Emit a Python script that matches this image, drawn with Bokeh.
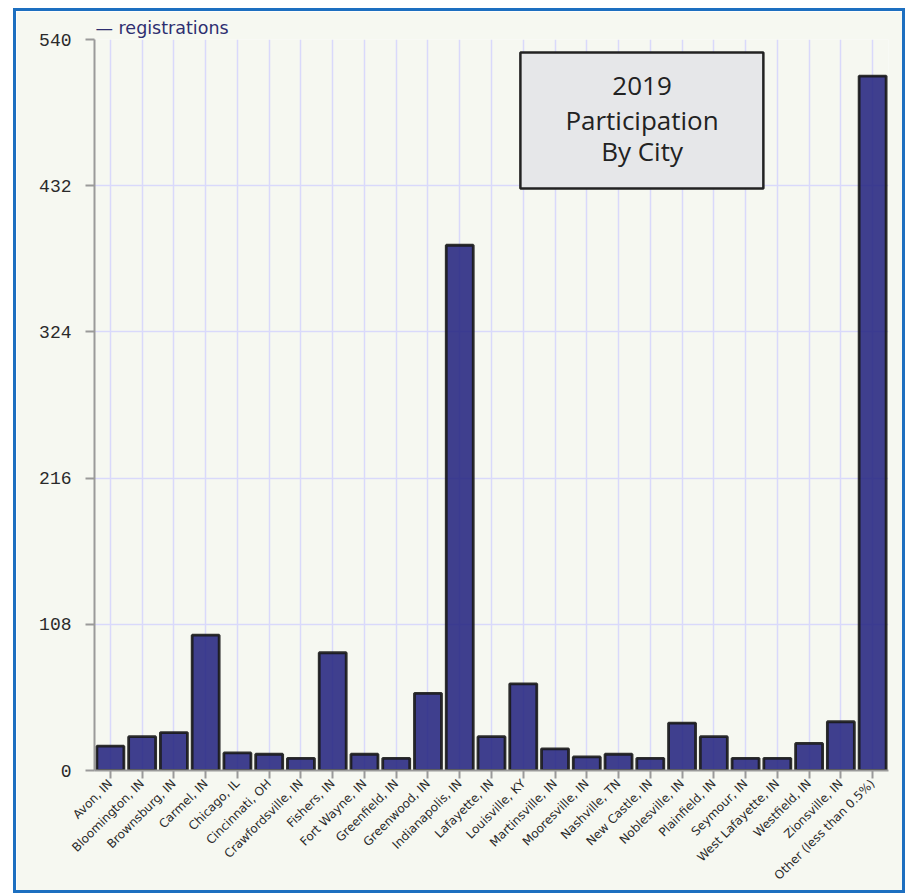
import math
from bokeh.plotting import figure
from bokeh.models import Range1d, FactorRange, BoxAnnotation, Label, FixedTicker
from bokeh.embed import file_html
from bokeh.resources import INLINE

cities = ["Avon, IN", "Bloomington, IN", "Brownsburg, IN", "Carmel, IN", "Chicago, IL",
          "Cincinnati, OH", "Crawfordsville, IN", "Fishers, IN", "Fort Wayne, IN", "Greenfield, IN",
          "Greenwood, IN", "Indianapolis, IN", "Lafayette, IN", "Louisville, KY", "Martinsville, IN",
          "Mooresville, IN", "Nashville, TN", "New Castle, IN", "Noblesville, IN", "Plainfield, IN",
          "Seymour, IN", "West Lafayette, IN", "Westfield, IN", "Zionsville, IN", "Other (less than 0.5%)"]
registrations = [18, 25, 28, 100, 13, 12, 9, 87, 12, 9, 57, 388, 25, 64, 16, 10, 12, 9, 35, 25, 9, 9, 20, 36, 513]
y_ticks = [0, 108, 216, 324, 432, 540]
series_name = "registrations"
title_lines = ["2019", "Participation", "By City"]

BG = "#f6f8f1"
GRID = "#d9d9fb"
AX = "#9a9a9a"
FRAME_H = 731

p = figure(x_range=FactorRange(factors=cities, range_padding=0), y_range=Range1d(0, 540),
           frame_width=794, frame_height=FRAME_H, output_backend="svg", toolbar_location=None,
           min_border_left=78, min_border_right=14, min_border_top=28, min_border_bottom=110)
p.styles = {"border": "3px solid #1d6fc0", "margin-left": "13px", "margin-top": "8px"}
p.background_fill_color = BG
p.border_fill_color = BG
p.outline_line_color = None

# series key shown above the plot area, as in the original
p.title.text = "\u2014 " + series_name
p.title.align = "left"
p.title.offset = 1
p.title.standoff = 3
p.title.text_font = "DejaVu Sans"
p.title.text_font_size = "17.5px"
p.title.text_font_style = "normal"
p.title.text_color = "#2e2e70"

p.vbar(x=cities, top=registrations, width=0.85, fill_color="#1e1e7c", fill_alpha=0.85,
       line_color="#1a1a1a", line_width=2.8, line_alpha=0.9)

p.xgrid.grid_line_color = GRID
p.xgrid.grid_line_width = 1.5
p.ygrid.grid_line_color = GRID
p.ygrid.grid_line_width = 1.5
p.xgrid.level = "image"
p.ygrid.level = "image"

p.yaxis.ticker = FixedTicker(ticks=y_ticks)
p.yaxis.minor_tick_line_color = None
p.yaxis.major_tick_out = 9
p.yaxis.major_tick_in = 0
p.yaxis.major_label_standoff = 14
p.yaxis.major_label_text_font = "Liberation Mono"
p.yaxis.major_label_text_font_size = "18px"
p.yaxis.major_label_text_color = "#2a2a2a"

for ax in (p.xaxis[0], p.yaxis[0]):
    ax.axis_line_color = AX
    ax.axis_line_width = 2
    ax.major_tick_line_color = AX
    ax.major_tick_line_width = 2

p.xaxis.major_tick_out = 8
p.xaxis.major_tick_in = 0
p.xaxis.major_label_orientation = math.pi / 4
p.xaxis.major_label_standoff = 3
p.xaxis.major_label_text_font = "DejaVu Sans"
p.xaxis.major_label_text_font_size = "12px"
p.xaxis.major_label_text_color = "#2a2a2a"

box = BoxAnnotation(left=13.41, right=21.06, top=530.4, bottom=429.9,
                    fill_color="#e6e7e9", fill_alpha=1.0,
                    line_color="#222222", line_alpha=1.0, line_width=2.5)
p.add_layout(box)
for txt, yy in zip(title_lines, [506.0, 480.9, 457.3]):
    p.add_layout(Label(x=17.24, y=yy, text=txt, text_align="center", text_baseline="middle",
                       text_font="Open Sans", text_font_size="26px", text_color="#222222"))

open("out.html", "w").write(file_html(p, INLINE))
